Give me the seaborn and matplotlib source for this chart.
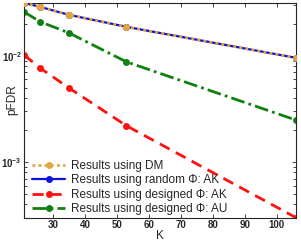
import numpy as np
import pandas as pd
import matplotlib
matplotlib.use("Agg")
import matplotlib.pyplot as plt
import seaborn as sns

# data
K = [21, 26, 35, 53, 106]
dm = [0.0316, 0.0290, 0.0244, 0.0188, 0.0096]
rand_ak = [0.0316, 0.0290, 0.0244, 0.0188, 0.0096]
des_ak = [0.0102, 0.0077, 0.0050, 0.0022, 0.00030]
des_au = [0.0260, 0.0210, 0.0165, 0.0088, 0.00249]

labels = ["Results using DM",
          "Results using random Φ: AK",
          "Results using designed Φ: AK",
          "Results using designed Φ: AU"]
colors = ["#E0A83A", "#1010E0", "#FF1010", "#108010"]
styles = [(0, (1, 1.2)), "-", (0, (4, 2.5)), (0, (5, 1.5, 1, 1.5))]

df = pd.concat([
    pd.DataFrame({"K": K, "pFDR": vals, "serie": lab})
    for vals, lab in zip([dm, rand_ak, des_ak, des_au], labels)
])

sns.set_style("ticks")
plt.rcParams['font.family'] = ['Liberation Sans', 'DejaVu Sans']
plt.rcParams['mathtext.fontset'] = 'dejavusans'

fig = plt.figure(figsize=(3.01, 2.42), dpi=100)
ax = fig.add_axes([0.08, 0.099, 0.903, 0.889])

# blue first so the dotted DM line sits on top
order = [1, 0, 2, 3]
for i in order:
    sub = df[df["serie"] == labels[i]]
    sns.lineplot(data=sub, x="K", y="pFDR", ax=ax, color=colors[i],
                 linestyle=styles[i], linewidth=2 if i != 1 else 1.6,
                 marker="o", markersize=5, markeredgewidth=0,
                 label=labels[i], zorder=3 if i == 0 else 2)

ax.set_yscale("log")
ax.set_xlim(21, 106)
ax.set_ylim(2.97e-4, 0.0316)
ax.set_xticks([30, 40, 50, 60, 70, 80, 90, 100])
ax.tick_params(which="both", direction="in", top=True, right=True,
               labelsize=7, length=3, width=0.6, pad=1.5)
ax.tick_params(which="minor", length=2)
for t in ax.get_xticklabels() + ax.get_yticklabels():
    t.set_fontweight("bold")
ax.set_xlabel("K", fontsize=8.5, labelpad=0)
ax.set_ylabel("pFDR", fontsize=8.5)
ax.yaxis.set_label_coords(-0.02, 0.55)
for s in ax.spines.values():
    s.set_linewidth(0.8)

h, l = ax.get_legend_handles_labels()
idx = [l.index(x) for x in labels]
ax.legend([h[i] for i in idx], [l[i] for i in idx], loc="lower left",
          frameon=False, fontsize=8.5, labelspacing=0.22, handlelength=2.8,
          handletextpad=0.5, borderaxespad=0.0, bbox_to_anchor=(0.012, -0.01))

fig.savefig("out.png", dpi=100)
